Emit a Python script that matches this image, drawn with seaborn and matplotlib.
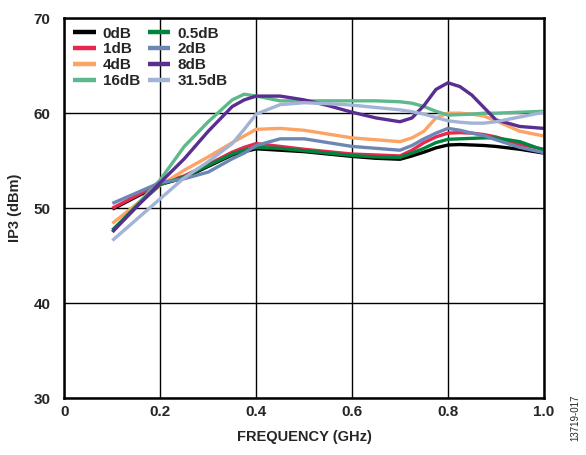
import numpy as np
import pandas as pd
import matplotlib
matplotlib.use("Agg")
import matplotlib.pyplot as plt
import seaborn as sns

# Frequency points (GHz)
freq = [0.10, 0.15, 0.20, 0.25, 0.30, 0.35, 0.375, 0.40, 0.45, 0.50, 0.55,
        0.60, 0.65, 0.70, 0.725, 0.75, 0.775, 0.80, 0.825, 0.85, 0.875,
        0.90, 0.95, 1.00]

# IP3 (dBm) per attenuation state
ip3_0db = [49.9, 51.2, 52.5, 53.2, 54.4, 55.6, 55.95, 56.25, 56.1, 55.95, 55.7,
           55.45, 55.25, 55.15, 55.5, 55.9, 56.35, 56.65, 56.7, 56.65, 56.6,
           56.5, 56.2, 55.8]
ip3_1db = [50.0, 51.3, 52.6, 53.4, 54.6, 55.9, 56.4, 56.8, 56.5, 56.2, 55.95,
           55.7, 55.6, 55.5, 56.1, 56.9, 57.5, 57.9, 57.95, 57.9, 57.75,
           57.5, 56.7, 56.2]
ip3_4db = [48.4, 50.4, 52.4, 54.0, 55.4, 56.9, 57.6, 58.3, 58.4, 58.2, 57.8,
           57.4, 57.2, 57.0, 57.4, 58.1, 59.5, 60.0, 60.0, 59.9, 59.7,
           59.2, 58.1, 57.6]
ip3_16db = [47.5, 50.3, 53.0, 56.5, 59.1, 61.4, 62.0, 61.8, 61.3, 61.3, 61.3,
            61.3, 61.3, 61.2, 61.05, 60.7, 60.2, 59.8, 59.85, 59.9, 60.0,
            60.0, 60.1, 60.2]
ip3_05db = [47.7, 50.2, 52.5, 53.3, 54.5, 55.7, 56.1, 56.4, 56.3, 56.05, 55.8,
            55.55, 55.4, 55.35, 55.8, 56.3, 56.9, 57.25, 57.3, 57.35, 57.4,
            57.4, 57.0, 56.1]
ip3_2db = [50.5, 51.6, 52.7, 53.1, 53.8, 55.2, 55.8, 56.6, 57.3, 57.3, 56.9,
           56.5, 56.3, 56.1, 56.6, 57.3, 57.9, 58.4, 58.2, 57.9, 57.65,
           57.2, 56.4, 55.85]
ip3_8db = [47.5, 50.1, 52.7, 55.2, 58.1, 60.7, 61.4, 61.8, 61.8, 61.4, 60.8,
           60.1, 59.5, 59.1, 59.5, 60.8, 62.5, 63.2, 62.8, 61.9, 60.6,
           59.3, 58.6, 58.4]
ip3_315db = [46.6, 48.8, 51.0, 53.2, 54.9, 56.8, 58.3, 59.9, 60.9, 61.1, 61.0,
             60.85, 60.6, 60.35, 60.15, 59.9, 59.55, 59.2, 59.05, 58.95, 58.95,
             59.1, 59.6, 60.1]

states = ["0dB", "1dB", "4dB", "16dB", "0.5dB", "2dB", "8dB", "31.5dB"]
series = [ip3_0db, ip3_1db, ip3_4db, ip3_16db, ip3_05db, ip3_2db, ip3_8db, ip3_315db]
colors = {
    "0dB": "#000000",
    "1dB": "#E8264E",
    "4dB": "#FCA365",
    "16dB": "#5DB98B",
    "0.5dB": "#00853F",
    "2dB": "#6D87B4",
    "8dB": "#5A2D90",
    "31.5dB": "#A2B3D5",
}

df = pd.DataFrame({
    "freq": np.tile(freq, len(states)),
    "ip3": np.concatenate(series),
    "state": np.repeat(states, len(freq)),
})

sns.set_style("white")
plt.rcParams["font.family"] = ["Liberation Sans", "DejaVu Sans"]
plt.rcParams["font.weight"] = "bold"

fig = plt.figure(figsize=(5.86, 4.55), dpi=100)
ax = fig.add_axes([0.110, 0.125, 0.818, 0.835])

sns.lineplot(data=df, x="freq", y="ip3", hue="state", hue_order=states,
             palette=colors, linewidth=2.4, ax=ax, sort=True)
for line in ax.get_lines():
    line.set_solid_joinstyle("round")
    line.set_solid_capstyle("butt")

ax.set_xlim(0, 1.0)
ax.set_ylim(30, 70)
ax.set_xticks([0, 0.2, 0.4, 0.6, 0.8, 1.0])
ax.set_xticklabels(["0", "0.2", "0.4", "0.6", "0.8", "1.0"])
ax.set_yticks([30, 40, 50, 60, 70])
ax.grid(True, color="black", linewidth=1.0)
ax.set_axisbelow(True)
for s in ax.spines.values():
    s.set_color("black")
    s.set_linewidth(1.8)
ax.tick_params(axis="both", length=0, labelsize=11, pad=5)
ax.tick_params(axis="y", pad=10)
for lab in ax.get_xticklabels() + ax.get_yticklabels():
    lab.set_fontweight("bold")

ax.set_xlabel("FREQUENCY (GHz)", fontsize=10.5, fontweight="bold", labelpad=8)
ax.set_ylabel("IP3 (dBm)", fontsize=10.5, fontweight="bold", labelpad=8)

leg = ax.legend(loc="upper left", ncol=2, frameon=False, fontsize=11,
                handlelength=1.5, handletextpad=0.45, columnspacing=0.5,
                labelspacing=0.12, borderaxespad=0.25, borderpad=0.3)
for line in leg.get_lines():
    line.set_linewidth(3.2)
for t in leg.get_texts():
    t.set_fontweight("bold")

fig.text(0.982, 0.03, "13719-017", rotation=90, fontsize=7,
         ha="center", va="bottom", fontweight="normal")

fig.savefig("out.png", dpi=100)
